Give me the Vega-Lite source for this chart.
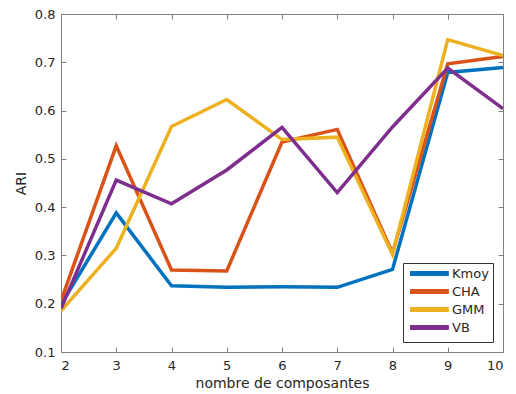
{
  "$schema": "https://vega.github.io/schema/vega-lite/v6.json",
  "autosize": "none",
  "width": 442,
  "height": 338,
  "padding": {"left": 61, "top": 14, "right": 13, "bottom": 42},
  "background": "white",
  "config": {
    "font": "DejaVu Sans",
    "view": {"stroke": "#808080", "strokeWidth": 1},
    "axis": {
      "labelFont": "DejaVu Sans",
      "titleFont": "DejaVu Sans",
      "labelFontSize": 13,
      "titleFontSize": 14,
      "titleFontWeight": "normal",
      "labelColor": "#262626",
      "titleColor": "#262626",
      "domainColor": "#808080",
      "tickColor": "#808080",
      "tickSize": -5,
      "gridColor": "#e6e6e6",
      "gridOpacity": 1
    }
  },
  "data": {
    "values": [
      {"k": 2, "m": "Kmoy", "v": 0.198},
      {"k": 3, "m": "Kmoy", "v": 0.388},
      {"k": 4, "m": "Kmoy", "v": 0.237},
      {"k": 5, "m": "Kmoy", "v": 0.234},
      {"k": 6, "m": "Kmoy", "v": 0.235},
      {"k": 7, "m": "Kmoy", "v": 0.234},
      {"k": 8, "m": "Kmoy", "v": 0.271},
      {"k": 9, "m": "Kmoy", "v": 0.679},
      {"k": 10, "m": "Kmoy", "v": 0.689},
      {"k": 2, "m": "CHA", "v": 0.206},
      {"k": 3, "m": "CHA", "v": 0.527},
      {"k": 4, "m": "CHA", "v": 0.270},
      {"k": 5, "m": "CHA", "v": 0.268},
      {"k": 6, "m": "CHA", "v": 0.535},
      {"k": 7, "m": "CHA", "v": 0.561},
      {"k": 8, "m": "CHA", "v": 0.305},
      {"k": 9, "m": "CHA", "v": 0.697},
      {"k": 10, "m": "CHA", "v": 0.712},
      {"k": 2, "m": "GMM", "v": 0.185},
      {"k": 3, "m": "GMM", "v": 0.315},
      {"k": 4, "m": "GMM", "v": 0.567},
      {"k": 5, "m": "GMM", "v": 0.623},
      {"k": 6, "m": "GMM", "v": 0.540},
      {"k": 7, "m": "GMM", "v": 0.545},
      {"k": 8, "m": "GMM", "v": 0.302},
      {"k": 9, "m": "GMM", "v": 0.747},
      {"k": 10, "m": "GMM", "v": 0.714},
      {"k": 2, "m": "VB", "v": 0.190},
      {"k": 3, "m": "VB", "v": 0.456},
      {"k": 4, "m": "VB", "v": 0.407},
      {"k": 5, "m": "VB", "v": 0.477},
      {"k": 6, "m": "VB", "v": 0.565},
      {"k": 7, "m": "VB", "v": 0.430},
      {"k": 8, "m": "VB", "v": 0.566},
      {"k": 9, "m": "VB", "v": 0.688},
      {"k": 10, "m": "VB", "v": 0.604}
    ]
  },
  "layer": [
    {
      "mark": {"type": "line", "strokeWidth": 0, "opacity": 0},
      "encoding": {
        "x": {
          "field": "k", "type": "quantitative",
          "scale": {"domain": [2, 10], "nice": false, "zero": false},
          "axis": {"orient": "top", "values": [2, 3, 4, 5, 6, 7, 8, 9, 10], "labels": false, "title": null, "grid": false, "domain": false}
        },
        "y": {
          "field": "v", "type": "quantitative",
          "scale": {"domain": [0.1, 0.8], "nice": false, "zero": false},
          "axis": {"orient": "right", "values": [0.1, 0.2, 0.3, 0.4, 0.5, 0.6, 0.7, 0.8], "labels": false, "title": null, "grid": false, "domain": false}
        }
      }
    },
    {
      "mark": {"type": "line", "strokeWidth": 3.5, "strokeJoin": "miter", "clip": true},
      "encoding": {
        "x": {
          "field": "k", "type": "quantitative",
          "scale": {"domain": [2, 10], "nice": false, "zero": false},
          "axis": {"values": [2, 3, 4, 5, 6, 7, 8, 9, 10], "title": "nombre de composantes", "labelPadding": 12, "titlePadding": 4}
        },
        "y": {
          "field": "v", "type": "quantitative",
          "scale": {"domain": [0.1, 0.8], "nice": false, "zero": false},
          "axis": {"values": [0.1, 0.2, 0.3, 0.4, 0.5, 0.6, 0.7, 0.8], "format": ".1f", "title": "ARI", "labelPadding": 11, "titlePadding": 6}
        },
        "color": {
          "field": "m", "type": "nominal",
          "scale": {"domain": ["Kmoy", "CHA", "GMM", "VB"], "range": ["#0072BD", "#D95319", "#EDB120", "#7E2F8E"]},
          "legend": {
            "title": null,
            "orient": "bottom-right",
            "offset": 10,
            "fillColor": "white",
            "strokeColor": "#333333",
            "padding": 4,
            "symbolType": "M-1,0H10.1",
            "symbolStrokeWidth": 5,
            "symbolSize": 49,
            "labelFontSize": 13,
            "labelColor": "#262626",
            "labelFont": "DejaVu Sans",
            "labelOffset": 32,
            "rowPadding": -3
          }
        },
        "order": {"field": "k"}
      }
    }
  ],
  "resolve": {"axis": {"x": "independent", "y": "independent"}}
}
